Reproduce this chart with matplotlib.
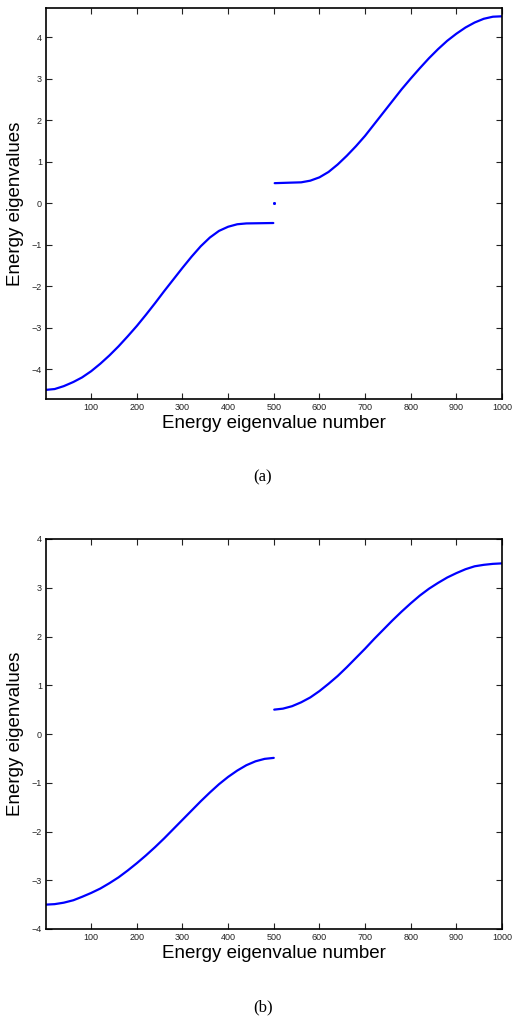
import numpy as np
import matplotlib
matplotlib.use('Agg')
import matplotlib.pyplot as plt

# panel (a): eigenvalue number vs energy
a_low_n = [1, 20, 40, 61, 80, 100, 120, 140, 160, 180, 200, 220, 240, 260, 280, 300,
           320, 340, 360, 380, 400, 420, 440, 470, 499]
a_low_e = [-4.50, -4.48, -4.41, -4.31, -4.20, -4.05, -3.87, -3.67, -3.45, -3.21, -2.96,
           -2.69, -2.41, -2.12, -1.84, -1.56, -1.29, -1.04, -0.83, -0.67, -0.57, -0.51,
           -0.49, -0.485, -0.48]
a_zero_n = [500, 501]
a_zero_e = [0.0, 0.0]
a_up_n = [502, 530, 560, 580, 600, 620, 640, 660, 680, 700, 720, 740, 760, 780, 800,
          820, 840, 860, 880, 900, 920, 940, 960, 980, 1000]
a_up_e = [0.48, 0.49, 0.50, 0.54, 0.62, 0.75, 0.93, 1.14, 1.37, 1.62, 1.90, 2.18, 2.46,
          2.74, 3.00, 3.25, 3.49, 3.71, 3.91, 4.08, 4.23, 4.35, 4.44, 4.49, 4.50]

# panel (b)
b_low_n = [1, 20, 40, 61, 80, 100, 120, 140, 160, 180, 200, 220, 240, 260, 280, 300,
           320, 340, 360, 380, 400, 420, 440, 460, 480, 500]
b_low_e = [-3.50, -3.49, -3.46, -3.41, -3.34, -3.26, -3.17, -3.06, -2.94, -2.80, -2.65,
           -2.49, -2.32, -2.14, -1.95, -1.76, -1.57, -1.38, -1.20, -1.03, -0.88, -0.75,
           -0.64, -0.56, -0.51, -0.49]
b_up_n = [501, 520, 540, 560, 580, 600, 620, 640, 660, 680, 700, 720, 740, 760, 780,
          800, 820, 840, 860, 880, 900, 920, 940, 960, 980, 1000]
b_up_e = [0.50, 0.52, 0.57, 0.65, 0.75, 0.88, 1.03, 1.19, 1.37, 1.56, 1.75, 1.95, 2.14,
          2.33, 2.51, 2.68, 2.84, 2.98, 3.10, 3.21, 3.30, 3.38, 3.44, 3.47, 3.49, 3.50]

plt.rcParams['font.family'] = ['Liberation Sans', 'DejaVu Sans']
plt.rcParams['axes.unicode_minus'] = True

W, H = 513, 1019
fig = plt.figure(figsize=(W / 100, H / 100), dpi=100)

def box(left, top, right, bottom):
    return [left / W, 1 - bottom / H, (right - left) / W, (bottom - top) / H]

def style(ax, ylim):
    ax.set_xlim(1, 1000)
    ax.set_ylim(*ylim)
    ax.set_xticks(np.arange(100, 1001, 100))
    ax.set_yticks(np.arange(-4, 5, 1))
    ax.tick_params(direction='in', top=True, right=True, length=4, width=0.8,
                   labelsize=6.5, pad=3, colors='#222222')
    for s in ax.spines.values():
        s.set_linewidth(1.2)

line_kw = dict(color='#0000ff', lw=1.6, solid_joinstyle='round', solid_capstyle='round')

ax1 = fig.add_axes(box(46, 8, 502, 399))
ax1.plot(a_low_n, a_low_e, **line_kw)
ax1.plot(a_up_n, a_up_e, **line_kw)
ax1.plot(a_zero_n, a_zero_e, '.', color='#0000ff', ms=2)
style(ax1, (-4.72, 4.70))

ax2 = fig.add_axes(box(46, 539, 502, 929))
ax2.plot(b_low_n, b_low_e, **line_kw)
ax2.plot(b_up_n, b_up_e, **line_kw)
style(ax2, (-4, 4))

for yc, xlab_y, cap_y, cap in [(203.5, 424, 477, '(a)'), (734, 954, 1007, '(b)')]:
    fig.text(16 / W, 1 - yc / H, 'Energy eigenvalues', rotation=90,
             ha='center', va='center', fontsize=13.5)
    fig.text(274 / W, 1 - xlab_y / H, 'Energy eigenvalue number',
             ha='center', va='center', fontsize=13.5)
    fig.text(263 / W, 1 - cap_y / H, cap, ha='center', va='center',
             fontsize=12, family=['Liberation Serif', 'DejaVu Serif'])

fig.savefig('out.png', dpi=100)
